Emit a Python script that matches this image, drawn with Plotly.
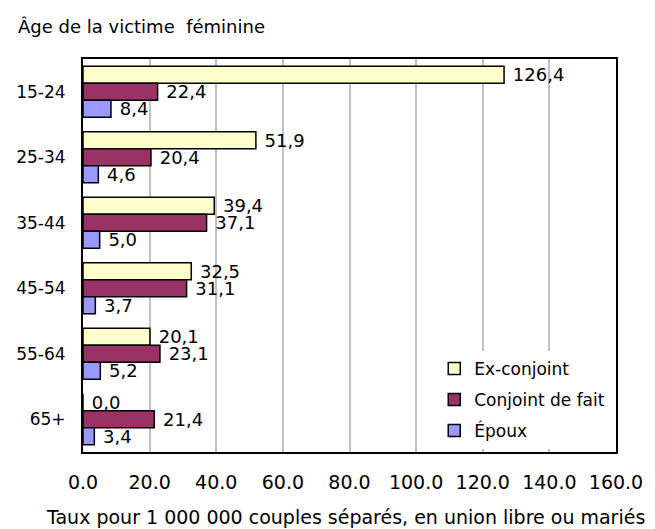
import plotly.graph_objects as go

categories = ["15-24", "25-34", "35-44", "45-54", "55-64", "65+"]
ex_conjoint = [126.4, 51.9, 39.4, 32.5, 20.1, 0.0]
conjoint_de_fait = [22.4, 20.4, 37.1, 31.1, 23.1, 21.4]
epoux = [8.4, 4.6, 5.0, 3.7, 5.2, 3.4]
series_names = ["Ex-conjoint", "Conjoint de fait", "Époux"]
series_colors = ["#FFFFCC", "#993366", "#9999FF"]
x_ticks = [0, 20, 40, 60, 80, 100, 120, 140, 160]

FONT = "DejaVu Sans, Arial, sans-serif"

def fmt(v):
    return "\u00a0" + f"{v:.1f}".replace(".", ",")

fig = go.Figure()
for i, (name, vals, col) in enumerate(zip(series_names, [ex_conjoint, conjoint_de_fait, epoux], series_colors)):
    fig.add_trace(go.Bar(
        y=categories, x=vals, name=name, orientation="h",
        legendgroup=f"g{i}",
        marker=dict(color=col, line=dict(color="black", width=1.5)),
        text=[fmt(v) for v in vals], textposition="outside",
        textfont=dict(family=FONT, size=18, color="black"),
        constraintext="none", cliponaxis=False,
    ))

fig.update_layout(
    width=655, height=529,
    margin=dict(l=83, r=33, t=59, b=77),
    paper_bgcolor="white", plot_bgcolor="white",
    font=dict(family=FONT, size=17, color="black"),
    barmode="group", bargap=0.22, bargroupgap=0.0,
    showlegend=True,
    legend=dict(x=0.659, y=0.008, xanchor="left", yanchor="bottom",
                bgcolor="white", borderwidth=0, tracegroupgap=6,
                font=dict(family=FONT, size=17, color="black"),
                itemwidth=30),
    title=dict(text="Âge de la victime  féminine", x=18/655, xanchor="left",
               y=1 - 27/529, yanchor="middle",
               font=dict(family=FONT, size=18, color="black")),
    xaxis=dict(range=[0, 160], tickvals=x_ticks,
               ticktext=[f"{t:.1f}" for t in x_ticks],
               showgrid=True, gridcolor="#C0C0C0", gridwidth=1.5,
               showline=True, linecolor="black", linewidth=2, mirror=True,
               zeroline=False, ticks="", ticklabelstandoff=12,
               tickfont=dict(family=FONT, size=19, color="black")),
    yaxis=dict(categoryorder="array", categoryarray=categories,
               autorange="reversed",
               showline=True, linecolor="black", linewidth=2, mirror=True,
               ticks="", ticklabelstandoff=12,
               tickfont=dict(family=FONT, size=17, color="black")),
    annotations=[dict(text="Taux pour 1 000 000 couples séparés, en union libre ou mariés",
                      xref="paper", yref="paper", x=(348-83)/539, y=-(517-452)/(452-59),
                      xanchor="center", yanchor="middle", showarrow=False,
                      font=dict(family=FONT, size=19, color="black"))],
)

fig.write_html("out.html", config={"displayModeBar": False},
               post_script="document.body.style.margin='0';")
